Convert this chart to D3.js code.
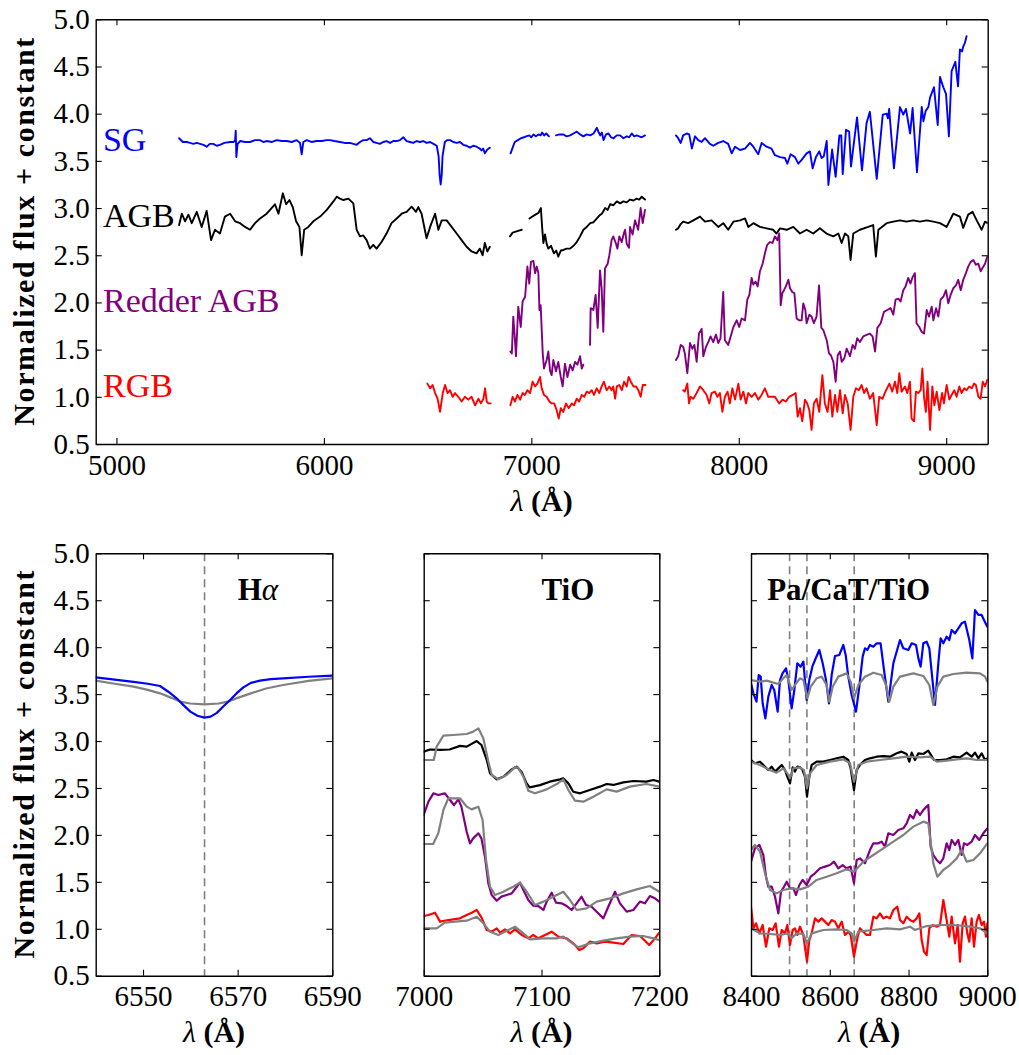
<!DOCTYPE html>
<html><head><meta charset="utf-8">
<script src="https://cdn.jsdelivr.net/npm/d3@7"></script>
<style>body{margin:0;background:#fff} svg{display:block}</style>
</head><body><svg id="c" width="1019" height="1055"></svg>
<script>
// ---------------- DATA ----------------
const topXTicks=[5000,6000,7000,8000,9000];
const yTicks=[0.5,1.0,1.5,2.0,2.5,3.0,3.5,4.0,4.5,5.0];
const haTicks=[6550,6570,6590], tioTicks=[7000,7100,7200], catTicks=[8400,8600,8800,9000];
const seriesNames=["SG","AGB","Redder AGB","RGB"];
const labelFlux=[3.6,2.8,1.9,1.0];
const markerLines=[8498,8542,8662];
const haLine=[6563];

// Top panel: SG (4 segments)
const SG_A=[[5302,3.74],[5320,3.70],[5339,3.70],[5355,3.69],[5371,3.68],[5387,3.69],[5403,3.68],[5420,3.67],[5435,3.65],[5450,3.68],[5467,3.68],[5483,3.66],[5499,3.67],[5520,3.69],[5548,3.70],[5565,3.70],[5572,3.72],[5575,3.82],[5578,3.54],[5584,3.68],[5596,3.71],[5620,3.70],[5644,3.70],[5668,3.72],[5692,3.72],[5708,3.70],[5724,3.71],[5750,3.70],[5773,3.72],[5797,3.71],[5821,3.71],[5845,3.70],[5869,3.72],[5885,3.69],[5893,3.57],[5901,3.70],[5917,3.72],[5940,3.70],[5965,3.71],[5990,3.71],[6013,3.72],[6030,3.72],[6050,3.71],[6078,3.70],[6100,3.69],[6126,3.69],[6142,3.68],[6158,3.67],[6174,3.70],[6190,3.72],[6206,3.72],[6222,3.74],[6238,3.70],[6254,3.69],[6270,3.68],[6286,3.70],[6302,3.71],[6319,3.69],[6335,3.71],[6351,3.71],[6367,3.72],[6383,3.75],[6399,3.71],[6415,3.70],[6431,3.69],[6447,3.71],[6463,3.70],[6479,3.71],[6495,3.69],[6512,3.70],[6528,3.68],[6544,3.66],[6553,3.55],[6558,3.35],[6563,3.25],[6568,3.35],[6572,3.55],[6583,3.70],[6595,3.72],[6608,3.72],[6624,3.70],[6640,3.69],[6656,3.70],[6672,3.67],[6688,3.66],[6704,3.64],[6720,3.66],[6736,3.65],[6752,3.63],[6760,3.61],[6768,3.63],[6776,3.58],[6788,3.62],[6800,3.64]];
const SG_B=[[6900,3.58],[6910,3.64],[6920,3.70],[6935,3.72],[6950,3.74],[6965,3.75],[6975,3.76],[6990,3.77],[7000,3.75],[7010,3.78],[7022,3.76],[7035,3.78],[7045,3.77],[7052,3.80],[7062,3.77],[7072,3.79],[7085,3.76]];
const SG_C=[[7119,3.77],[7135,3.78],[7155,3.78],[7170,3.76],[7187,3.77],[7203,3.79],[7219,3.81],[7235,3.78],[7251,3.76],[7267,3.78],[7284,3.77],[7300,3.79],[7316,3.85],[7325,3.80],[7332,3.77],[7340,3.80],[7348,3.72],[7360,3.78],[7372,3.79],[7384,3.75],[7396,3.74],[7412,3.77],[7428,3.77],[7444,3.74],[7460,3.76],[7472,3.75],[7484,3.79],[7496,3.76],[7508,3.77],[7520,3.76],[7532,3.75],[7548,3.77]];
const SG_D=[[7697,3.77],[7708,3.74],[7720,3.69],[7732,3.77],[7749,3.79],[7761,3.78],[7774,3.63],[7789,3.76],[7805,3.72],[7821,3.70],[7837,3.74],[7861,3.68],[7877,3.66],[7901,3.69],[7925,3.71],[7949,3.68],[7966,3.58],[7982,3.65],[8006,3.615],[8030,3.63],[8054,3.69],[8070,3.65],[8094,3.57],[8110,3.69],[8134,3.65],[8158,3.63],[8174,3.56],[8199,3.54],[8223,3.53],[8234,3.47],[8250,3.57],[8271,3.54],[8287,3.47],[8303,3.51],[8327,3.58],[8343,3.60],[8356,3.42],[8372,3.54],[8388,3.60],[8399,3.53],[8410,3.55],[8424,3.71],[8432,3.245],[8450,3.62],[8467,3.33],[8485,3.77],[8494,3.77],[8501,3.36],[8517,3.83],[8532,3.81],[8541,3.44],[8570,3.96],[8594,3.40],[8616,3.90],[8632,4.02],[8665,3.31],[8694,3.99],[8713,4.00],[8719,3.95],[8725,4.05],[8748,3.42],[8777,4.07],[8793,3.99],[8806,4.05],[8826,3.79],[8838,4.06],[8859,3.38],[8882,4.07],[8890,3.92],[8901,4.03],[8914,4.07],[8922,4.17],[8941,4.28],[8959,3.88],[8970,4.39],[8986,4.28],[8999,4.21],[9013,3.76],[9026,4.45],[9044,4.55],[9057,4.29],[9066,4.68],[9076,4.66],[9082,4.71],[9090,4.75],[9098,4.82]];

// Top panel: AGB
const AGB_A=[[5302,2.82],[5315,2.94],[5331,2.86],[5347,2.93],[5363,2.84],[5387,2.96],[5411,2.80],[5435,2.97],[5456,2.66],[5475,2.77],[5499,2.73],[5523,2.91],[5548,2.94],[5572,2.86],[5596,2.84],[5620,2.80],[5644,2.77],[5668,2.84],[5692,2.89],[5724,2.94],[5748,3.00],[5764,3.04],[5781,2.94],[5802,3.156],[5818,3.04],[5834,3.085],[5850,3.01],[5866,2.86],[5882,2.80],[5893,2.50],[5905,2.77],[5925,2.80],[5949,2.86],[5982,2.91],[6014,2.98],[6046,3.07],[6062,3.12],[6078,3.10],[6094,3.085],[6118,3.10],[6142,3.05],[6158,2.77],[6174,2.70],[6190,2.71],[6206,2.66],[6222,2.57],[6238,2.61],[6254,2.57],[6278,2.64],[6302,2.73],[6326,2.84],[6351,2.89],[6375,2.94],[6399,2.96],[6423,3.015],[6444,2.96],[6455,3.01],[6471,2.94],[6495,2.68],[6512,2.80],[6536,2.94],[6552,2.77],[6568,2.87],[6592,2.87],[6616,2.80],[6640,2.73],[6664,2.66],[6688,2.59],[6712,2.54],[6736,2.52],[6752,2.57],[6765,2.50],[6776,2.63],[6788,2.54],[6800,2.59]];
const AGB_B=[[6897,2.70],[6910,2.74],[6925,2.75],[6940,2.76],[6954,2.77]];
const AGB_C=[[6991,2.89],[7005,2.91],[7020,2.93],[7035,2.95],[7046,3.00],[7052,2.80],[7058,2.63],[7066,2.72],[7074,2.62],[7082,2.57],[7095,2.60],[7109,2.52],[7120,2.55],[7130,2.485],[7142,2.55],[7155,2.556],[7170,2.57],[7187,2.57],[7203,2.60],[7219,2.64],[7235,2.70],[7251,2.77],[7267,2.80],[7284,2.84],[7300,2.85],[7316,2.89],[7328,2.92],[7340,2.94],[7356,3.00],[7368,2.98],[7380,3.04],[7396,3.03],[7412,3.07],[7428,3.05],[7444,3.07],[7460,3.06],[7476,3.09],[7492,3.08],[7508,3.10],[7520,3.09],[7532,3.12],[7548,3.09]];
const AGB_D=[[7697,2.77],[7708,2.785],[7720,2.83],[7732,2.856],[7756,2.84],[7781,2.87],[7813,2.91],[7837,2.856],[7869,2.87],[7901,2.80],[7925,2.84],[7949,2.77],[7974,2.856],[8006,2.87],[8030,2.89],[8046,2.80],[8070,2.84],[8102,2.80],[8134,2.785],[8166,2.77],[8182,2.73],[8199,2.785],[8231,2.77],[8263,2.80],[8295,2.73],[8327,2.77],[8359,2.73],[8391,2.785],[8423,2.73],[8456,2.70],[8480,2.73],[8496,2.63],[8512,2.73],[8528,2.70],[8539,2.45],[8552,2.73],[8584,2.77],[8624,2.80],[8648,2.82],[8661,2.485],[8673,2.77],[8713,2.84],[8745,2.856],[8777,2.87],[8809,2.856],[8841,2.87],[8873,2.856],[8906,2.87],[8938,2.856],[8970,2.84],[9002,2.80],[9034,2.94],[9066,2.91],[9082,2.79],[9106,2.93],[9127,2.96],[9147,2.87],[9171,2.77],[9187,2.856],[9200,2.84]];

// Top panel: Redder AGB
const RAGB_A=[[6899,1.48],[6906,1.46],[6913,1.85],[6919,1.67],[6926,1.43],[6937,1.955],[6949,1.74],[6958,2.01],[6970,2.06],[6981,2.38],[6990,2.20],[6998,2.43],[7010,2.44],[7018,2.31],[7026,2.38],[7034,2.31],[7039,1.92],[7045,1.97],[7055,1.46],[7061,1.30],[7074,1.39],[7082,1.48],[7090,1.28],[7098,1.23],[7106,1.39],[7119,1.27],[7130,1.37],[7142,1.21],[7151,1.11],[7162,1.35],[7174,1.21],[7187,1.34],[7199,1.28],[7211,1.37],[7222,1.34],[7235,1.43],[7243,1.30],[7251,1.34]];
const RAGB_B=[[7283,1.55],[7286,1.94],[7299,1.92],[7310,2.08],[7320,1.73],[7331,2.34],[7339,2.15],[7347,1.69],[7355,2.36],[7368,2.41],[7376,2.50],[7387,2.66],[7395,2.70],[7407,2.63],[7415,2.57],[7424,2.70],[7436,2.64],[7447,2.74],[7452,2.77],[7460,2.62],[7471,2.58],[7476,2.80],[7488,2.72],[7500,2.87],[7515,2.77],[7527,3.00],[7537,2.84],[7548,2.98]];
const RAGB_C=[[7697,1.39],[7708,1.43],[7720,1.55],[7732,1.53],[7740,1.46],[7752,1.25],[7765,1.57],[7776,1.51],[7786,1.55],[7797,1.37],[7808,1.67],[7821,1.72],[7829,1.43],[7842,1.53],[7853,1.58],[7864,1.64],[7877,1.58],[7890,1.66],[7901,1.57],[7912,1.62],[7925,2.11],[7933,1.60],[7949,1.55],[7961,1.64],[7974,1.74],[7990,1.81],[8002,1.74],[8014,1.83],[8030,1.81],[8041,2.03],[8051,2.08],[8062,2.26],[8070,2.19],[8081,2.22],[8091,2.17],[8102,2.33],[8115,2.41],[8126,2.52],[8137,2.61],[8150,2.64],[8163,2.63],[8174,2.70],[8186,2.66],[8195,2.73],[8202,1.97],[8210,2.10],[8218,2.13],[8227,2.17],[8239,2.24],[8247,2.15],[8258,2.11],[8268,2.10],[8279,1.83],[8292,1.81],[8303,1.81],[8311,1.99],[8321,1.92],[8327,1.78],[8340,1.87],[8351,1.85],[8362,1.78],[8375,1.85],[8387,2.18],[8398,1.73],[8407,1.71],[8424,1.60],[8435,1.46],[8444,1.44],[8456,1.37],[8467,1.16],[8477,1.44],[8488,1.48],[8496,1.37],[8509,1.41],[8520,1.51],[8536,1.43],[8549,1.55],[8560,1.51],[8571,1.62],[8584,1.58],[8600,1.64],[8616,1.655],[8632,1.67],[8645,1.64],[8657,1.48],[8668,1.73],[8684,1.78],[8700,1.90],[8716,1.92],[8732,1.94],[8745,1.87],[8756,2.03],[8769,2.04],[8780,2.01],[8793,2.13],[8804,2.17],[8817,2.26],[8828,2.20],[8838,2.27],[8849,2.31],[8857,1.78],[8870,1.74],[8881,1.69],[8893,1.67],[8906,1.92],[8917,1.85],[8930,1.955],[8938,1.81],[8951,1.94],[8962,1.85],[8973,2.03],[8986,2.06],[8999,2.13],[9010,1.99],[9021,2.08],[9034,2.15],[9047,2.18],[9058,2.24],[9070,2.13],[9082,2.24],[9095,2.31],[9106,2.38],[9118,2.43],[9131,2.45],[9143,2.40],[9155,2.41],[9166,2.33],[9179,2.38],[9187,2.41],[9198,2.485]];

// Top panel: RGB
const RGB_A=[[6499,1.14],[6512,1.09],[6524,1.125],[6536,1.04],[6548,0.98],[6560,0.84],[6573,1.04],[6584,1.125],[6596,1.04],[6608,1.07],[6621,1.00],[6632,1.04],[6648,1.00],[6664,0.95],[6680,1.00],[6696,0.97],[6712,1.00],[6729,0.91],[6745,0.98],[6757,0.93],[6769,0.98],[6777,1.09],[6785,0.95],[6793,0.93],[6804,0.93]];
const RGB_B=[[6899,0.91],[6910,1.00],[6921,0.95],[6933,1.02],[6946,0.97],[6958,1.04],[6969,1.02],[6981,1.07],[6994,1.04],[7006,1.16],[7018,1.11],[7029,1.14],[7042,1.21],[7050,1.09],[7061,1.02],[7074,1.00],[7087,0.95],[7098,0.93],[7110,0.93],[7122,0.86],[7132,0.77],[7142,0.88],[7154,0.84],[7167,0.93],[7180,0.88],[7195,0.93],[7206,0.91],[7219,0.98],[7231,0.95],[7243,1.02],[7255,1.00],[7267,1.055],[7279,1.04],[7291,1.07],[7302,1.02],[7315,1.09],[7328,1.04],[7339,1.11],[7350,1.16],[7363,1.07],[7376,1.11],[7387,1.07],[7395,1.11],[7404,0.98],[7412,1.11],[7424,1.125],[7436,1.07],[7447,1.16],[7460,1.11],[7469,1.21],[7480,1.16],[7492,1.11],[7505,1.11],[7516,1.07],[7527,1.00],[7537,1.125],[7550,1.125]];
const RGB_C=[[7732,1.07],[7740,1.055],[7752,1.14],[7760,0.93],[7768,1.00],[7781,0.98],[7797,1.04],[7813,1.11],[7829,1.07],[7845,1.02],[7858,0.93],[7869,1.04],[7885,1.055],[7897,1.00],[7909,1.04],[7921,0.84],[7933,1.00],[7946,1.055],[7957,0.93],[7969,1.09],[7982,0.97],[7998,1.14],[8009,0.97],[8022,1.055],[8035,0.93],[8046,1.04],[8062,1.00],[8078,1.04],[8094,0.97],[8110,1.02],[8126,1.09],[8142,1.00],[8158,1.00],[8174,1.00],[8195,0.93],[8211,0.97],[8227,0.95],[8243,1.00],[8260,1.02],[8274,1.04],[8284,0.79],[8295,0.88],[8306,0.74],[8319,0.97],[8330,0.93],[8340,0.86],[8351,0.65],[8362,0.93],[8375,0.98],[8388,0.84],[8403,1.23],[8415,0.93],[8428,0.84],[8440,1.07],[8451,0.79],[8464,1.02],[8475,0.84],[8488,1.07],[8501,0.825],[8512,1.02],[8525,0.93],[8539,0.65],[8552,1.00],[8565,1.09],[8579,1.07],[8592,1.125],[8604,1.04],[8616,1.09],[8632,0.98],[8648,1.04],[8665,0.70],[8677,1.00],[8693,0.98],[8710,1.07],[8726,1.14],[8740,1.055],[8753,1.16],[8764,1.04],[8774,1.25],[8785,1.055],[8801,1.11],[8812,1.04],[8825,1.16],[8833,0.77],[8845,0.74],[8854,1.055],[8865,1.04],[8877,1.07],[8885,1.30],[8893,1.00],[8902,0.84],[8910,1.16],[8922,0.65],[8933,1.11],[8943,0.91],[8954,1.055],[8967,0.86],[8980,1.04],[8989,0.93],[9002,1.125],[9015,0.97],[9026,1.02],[9039,1.07],[9050,1.00],[9063,1.11],[9074,1.04],[9087,1.09],[9098,1.07],[9111,1.11],[9123,1.09],[9134,1.14],[9143,1.125],[9155,1.00],[9166,0.98],[9176,1.16],[9187,1.11],[9198,1.18]];

// H-alpha panel
const HA_SG=[[6540,3.678],[6544,3.655],[6548,3.63],[6551,3.61],[6553.6,3.586],[6555.5,3.52],[6557.1,3.455],[6558.6,3.38],[6560,3.313],[6561.5,3.27],[6563,3.249],[6564.3,3.26],[6565.6,3.30],[6567,3.37],[6568.4,3.437],[6569.8,3.51],[6571.2,3.572],[6572.8,3.62],[6574.7,3.643],[6577,3.66],[6579.6,3.668],[6585,3.685],[6590,3.696]];
const HA_SG_MODEL=[[6540,3.643],[6544,3.61],[6548,3.579],[6551,3.545],[6553.6,3.508],[6556,3.46],[6557.8,3.42],[6560,3.40],[6563,3.391],[6566,3.40],[6567.9,3.42],[6570,3.46],[6572.8,3.508],[6576,3.56],[6579.6,3.597],[6585,3.64],[6590,3.668]];

// TiO panel
const TIO_AGB=[[7000,2.887],[7005.4,2.91],[7013.9,2.905],[7022,2.91],[7030.8,2.948],[7036.5,2.94],[7045,3.0],[7049,2.958],[7053.5,2.80],[7056.3,2.656],[7062,2.592],[7067.6,2.62],[7074.7,2.698],[7079,2.727],[7083,2.674],[7087.4,2.549],[7090,2.507],[7098.7,2.53],[7107,2.567],[7115.7,2.592],[7118.5,2.602],[7122.8,2.549],[7127,2.46],[7132.7,2.443],[7141,2.478],[7149.6,2.514],[7155.3,2.542],[7161,2.532],[7169.5,2.56],[7178,2.574],[7189,2.567],[7195,2.585],[7200,2.567]];
const TIO_AGB_MODEL=[[7000,2.798],[7008.6,2.798],[7011,2.94],[7016.7,3.057],[7025,3.064],[7036.5,3.075],[7042,3.10],[7046.4,3.135],[7050.6,3.029],[7054.9,2.78],[7057.7,2.638],[7063.4,2.592],[7070.4,2.638],[7077.5,2.72],[7080,2.72],[7084.6,2.62],[7088.8,2.471],[7094.5,2.443],[7104.4,2.485],[7112.9,2.542],[7118.5,2.592],[7122.8,2.478],[7128.4,2.365],[7135.5,2.354],[7144,2.407],[7155.3,2.485],[7163.8,2.461],[7175,2.514],[7189,2.542],[7200,2.514]];
const TIO_RAGB=[[7000,2.212],[7004,2.354],[7008.2,2.443],[7012.4,2.425],[7018,2.443],[7022.3,2.372],[7025.7,2.318],[7029.4,2.379],[7032,2.301],[7036.5,2.034],[7039.3,1.91],[7042,1.963],[7046.4,2.017],[7049,1.963],[7052,1.768],[7054.9,1.484],[7057.7,1.36],[7062,1.299],[7066,1.342],[7070.4,1.36],[7074.7,1.377],[7079,1.448],[7081.8,1.491],[7084.6,1.413],[7088.8,1.306],[7093,1.246],[7097.3,1.242],[7101.6,1.20],[7104.4,1.289],[7108.6,1.384],[7112.3,1.278],[7117,1.271],[7121.4,1.242],[7125.6,1.20],[7129.8,1.271],[7134,1.342],[7137.8,1.253],[7142.6,1.235],[7146.8,1.182],[7152.5,1.111],[7156.7,1.235],[7162.4,1.395],[7166.6,1.271],[7172.3,1.182],[7178,1.20],[7183.6,1.289],[7187.8,1.271],[7192,1.349],[7196.3,1.324],[7200,1.289]];
const TIO_RAGB_MODEL=[[7000,1.903],[7008,1.903],[7012.4,2.017],[7016.7,2.265],[7020.9,2.39],[7030.8,2.39],[7036.5,2.301],[7040.7,2.272],[7046.4,2.301],[7050,2.159],[7052.9,1.733],[7056.3,1.448],[7060.5,1.36],[7067.6,1.395],[7076,1.448],[7081.8,1.491],[7087.4,1.395],[7094.5,1.253],[7101.6,1.289],[7110,1.342],[7118.5,1.395],[7124.2,1.306],[7129.8,1.20],[7138.3,1.218],[7146.8,1.289],[7158.1,1.324],[7169.5,1.377],[7180.8,1.42],[7192,1.455],[7200,1.395]];
const TIO_RGB=[[7000,1.136],[7004,1.147],[7009.6,1.171],[7013.9,1.076],[7020.9,1.093],[7030.8,1.111],[7036.5,1.147],[7040.7,1.171],[7045,1.20],[7049,1.122],[7053.5,0.987],[7057.7,0.969],[7062,1.005],[7064.8,0.958],[7069,0.994],[7073.3,0.951],[7077.5,0.994],[7083.2,0.934],[7088.8,0.898],[7093,0.934],[7097.3,0.898],[7103,0.934],[7108.6,0.969],[7114.3,0.916],[7121.4,0.898],[7127,0.845],[7132.1,0.774],[7135.5,0.792],[7141.2,0.863],[7146.8,0.845],[7153.9,0.863],[7161,0.852],[7169.5,0.838],[7176.5,0.933],[7183.6,0.923],[7191.5,0.827],[7196.3,0.898],[7200,0.958]];
const TIO_RGB_MODEL=[[7000,1.005],[7011,1.005],[7018,1.065],[7026.6,1.076],[7036.5,1.086],[7045,1.129],[7050.6,1.058],[7056.3,0.969],[7063.4,0.934],[7071.9,0.987],[7077.5,1.022],[7084.6,0.951],[7090.2,0.887],[7101.6,0.898],[7112.9,0.898],[7118.5,0.916],[7124.2,0.863],[7131.3,0.802],[7141.2,0.845],[7152.5,0.873],[7163.8,0.898],[7175,0.916],[7186.4,0.923],[7194.9,0.898],[7200,0.88]];

// Pa/CaT/TiO panel
const CAT_SG=[[8400,3.615],[8406,3.508],[8414,3.419],[8419.5,3.703],[8424.6,3.686],[8429.6,3.402],[8436.4,3.242],[8444,3.473],[8452.5,3.597],[8459,3.544],[8467.7,3.313],[8473.6,3.65],[8480,3.721],[8488.9,3.775],[8494.8,3.65],[8503.2,3.348],[8510,3.544],[8517.6,3.828],[8526,3.792],[8532.9,3.846],[8541.3,3.437],[8548,3.65],[8555.7,3.792],[8562.5,3.863],[8573.5,3.97],[8582,3.828],[8590.4,3.65],[8598,3.402],[8604.8,3.703],[8613.3,3.906],[8624.3,3.917],[8634.4,4.023],[8640.4,3.917],[8647,3.686],[8655.6,3.49],[8666.6,3.313],[8675,3.579],[8683.5,3.899],[8689.4,3.988],[8695.3,3.97],[8702,4.023],[8710.6,4.005],[8719,4.041],[8729,4.041],[8737.7,3.757],[8748.7,3.42],[8761.4,3.828],[8778.3,4.076],[8786.8,3.988],[8799.5,3.97],[8808,4.041],[8819,4.023],[8825,3.881],[8830.8,3.792],[8837.5,4.041],[8846,4.058],[8852.8,3.988],[8861.2,3.633],[8867.2,3.384],[8875.6,3.828],[8881.5,4.094],[8888.3,4.041],[8896.8,4.112],[8903.5,4.076],[8909.5,4.183],[8918,4.147],[8926.4,4.201],[8934.9,4.254],[8943.3,4.272],[8954.3,4.076],[8962,3.881],[8968.7,4.396],[8977.2,4.343],[8985.6,4.343],[8991.6,4.289],[9000,4.218]];
const CAT_SG_MODEL=[[8400,3.65],[8422.9,3.633],[8440,3.643],[8456.7,3.622],[8469.4,3.608],[8482,3.668],[8490.6,3.703],[8503.2,3.544],[8511.7,3.597],[8524.4,3.668],[8533,3.65],[8543,3.455],[8551.5,3.579],[8566.7,3.668],[8579.4,3.686],[8592,3.597],[8599,3.419],[8607.3,3.579],[8621.7,3.686],[8642.9,3.721],[8653,3.633],[8661.5,3.455],[8672.5,3.597],[8689.4,3.686],[8710.6,3.728],[8731.7,3.703],[8742.7,3.597],[8751.2,3.419],[8761.4,3.579],[8778.3,3.686],[8812.2,3.721],[8837.5,3.693],[8852.8,3.597],[8863,3.384],[8873.2,3.579],[8888.3,3.686],[8913.7,3.714],[8947.5,3.728],[8981.4,3.721],[8994.1,3.686],[9000,3.633]];
const CAT_AGB=[[8400,2.798],[8410,2.763],[8422.9,2.78],[8435.5,2.727],[8444,2.691],[8452.5,2.727],[8461,2.674],[8469.4,2.709],[8477.9,2.745],[8486.3,2.691],[8492.2,2.62],[8499,2.549],[8505.8,2.72],[8511.7,2.674],[8517.6,2.727],[8524.4,2.72],[8531,2.691],[8537,2.62],[8542.2,2.407],[8548.1,2.62],[8554,2.745],[8566.7,2.78],[8583.6,2.78],[8600.6,2.798],[8617.5,2.816],[8634.4,2.833],[8647,2.798],[8653,2.709],[8661.5,2.478],[8668.3,2.691],[8676.7,2.745],[8689.4,2.798],[8702,2.816],[8719,2.833],[8736,2.84],[8753,2.833],[8770,2.869],[8782.5,2.887],[8795,2.862],[8801.9,2.78],[8808,2.876],[8816.4,2.798],[8825,2.869],[8837.5,2.862],[8850,2.897],[8858.7,2.84],[8864.6,2.798],[8879.9,2.798],[8896.8,2.805],[8913.7,2.833],[8930.6,2.826],[8947.5,2.876],[8960.2,2.833],[8968.7,2.876],[8977.2,2.816],[8985.6,2.869],[8994.1,2.798],[9000,2.816]];
const CAT_AGB_MODEL=[[8400,2.78],[8422.9,2.745],[8444,2.698],[8465.2,2.663],[8482,2.709],[8492.2,2.656],[8499,2.603],[8507.5,2.709],[8524.4,2.72],[8534.5,2.691],[8542.2,2.496],[8549.8,2.656],[8566.7,2.745],[8600.6,2.78],[8634.4,2.805],[8651.4,2.763],[8661.5,2.567],[8672.5,2.745],[8693.6,2.78],[8727.5,2.798],[8761.4,2.816],[8795.2,2.833],[8829.2,2.826],[8854.5,2.833],[8871.5,2.78],[8896.8,2.791],[8922.2,2.805],[8947.5,2.816],[8972.9,2.798],[9000,2.798]];
const CAT_RAGB=[[8400,1.715],[8410,1.857],[8421.2,1.893],[8431.3,1.786],[8438.1,1.555],[8444,1.448],[8452.5,1.448],[8461,1.342],[8469.4,1.164],[8476.2,1.395],[8483.8,1.448],[8490.6,1.502],[8499,1.431],[8507.5,1.431],[8514.3,1.36],[8522.7,1.466],[8531.2,1.52],[8541.3,1.466],[8551.5,1.555],[8562.5,1.591],[8575.2,1.644],[8587.9,1.662],[8600.6,1.679],[8610.7,1.715],[8621.7,1.644],[8632.7,1.679],[8642.9,1.644],[8653,1.662],[8661.5,1.484],[8668.3,1.733],[8676.7,1.75],[8689.4,1.697],[8702,1.839],[8710.6,1.91],[8723.3,1.91],[8731.7,1.928],[8740.2,1.875],[8748.7,2.017],[8761.4,1.999],[8774.1,2.052],[8786.8,2.07],[8795.2,2.123],[8803.7,2.212],[8812.2,2.176],[8820.6,2.265],[8829,2.212],[8837.5,2.265],[8846,2.301],[8850.2,2.318],[8856.2,1.875],[8863,1.786],[8871.4,1.733],[8879.9,1.697],[8888.3,1.75],[8896.8,1.91],[8903.5,1.839],[8909.5,1.946],[8918,1.893],[8926.4,1.946],[8934.9,1.786],[8940.8,1.91],[8949.2,1.893],[8960.2,1.928],[8968.7,1.999],[8979.7,1.946],[8989.9,2.017],[9000,2.07]];
const CAT_RAGB_MODEL=[[8400,1.839],[8410,1.893],[8422.9,1.821],[8435.5,1.591],[8448.2,1.413],[8465.2,1.377],[8482,1.413],[8503.2,1.431],[8524.4,1.42],[8545.6,1.448],[8566.7,1.52],[8592,1.555],[8617.5,1.591],[8642.9,1.633],[8661.5,1.608],[8685.2,1.715],[8710.6,1.786],[8736,1.857],[8761.4,1.928],[8786.8,1.999],[8812.2,2.088],[8837.5,2.141],[8850.2,2.123],[8863,1.697],[8873.2,1.555],[8888.3,1.626],[8905.2,1.679],[8922.2,1.75],[8934.9,1.839],[8947.5,1.715],[8964.5,1.733],[8981.4,1.803],[9000,1.91]];
const CAT_RGB=[[8400,1.235],[8406,1.005],[8412.7,1.058],[8421.2,0.951],[8429.6,1.04],[8438.1,0.809],[8446.5,1.005],[8455,0.987],[8462.6,1.058],[8471,0.809],[8477.9,0.987],[8486.3,0.951],[8492.2,1.04],[8499,0.827],[8505.8,0.987],[8511.7,1.005],[8517.6,0.934],[8524.4,1.022],[8532.9,0.934],[8538,0.774],[8542.2,0.65],[8548.1,0.88],[8554,0.951],[8562.5,1.111],[8571,1.076],[8579.4,1.111],[8587.9,1.076],[8596.3,1.04],[8604.8,1.093],[8613.3,1.076],[8621.7,1.005],[8630.2,1.076],[8638.7,0.934],[8647,0.969],[8653,0.934],[8661.5,0.703],[8670,0.898],[8676.7,1.005],[8685.2,0.969],[8693.6,0.934],[8702,0.934],[8710.6,1.129],[8719,1.111],[8727.5,1.164],[8736,1.111],[8744.4,1.129],[8752.9,1.111],[8761.4,1.2],[8771.5,1.235],[8778.3,1.093],[8786.8,1.058],[8795.2,1.129],[8803.7,1.093],[8812.2,1.076],[8820.6,1.111],[8827.4,1.164],[8833.3,0.88],[8839.3,0.756],[8846,0.72],[8852.8,1.005],[8861.2,1.04],[8871.4,1.022],[8879.9,1.04],[8888.3,1.306],[8896.8,1.093],[8903.5,0.916],[8909.5,1.129],[8918,0.845],[8924.9,1.04],[8930.6,0.65],[8937.4,1.058],[8943.3,1.129],[8949.2,0.951],[8954.3,0.863],[8960.2,1.111],[8966.2,0.809],[8973,1.076],[8978.8,1.147],[8985.6,1.04],[8991.6,1.076],[8996.6,0.916],[9000,1.058]];
const CAT_RGB_MODEL=[[8400,1.005],[8422.9,0.951],[8448.2,0.944],[8473.6,0.934],[8494.8,0.951],[8503.2,0.898],[8515.9,0.951],[8532.9,0.944],[8542.2,0.845],[8554,0.951],[8583.6,0.987],[8617.5,0.994],[8642.9,0.987],[8655.6,0.951],[8661.5,0.863],[8672.5,0.969],[8710.6,0.987],[8744.4,1.005],[8778.3,0.994],[8803.7,1.022],[8816.4,0.987],[8846,1.029],[8879.9,1.04],[8913.7,1.04],[8947.5,1.029],[8981.4,1.005],[9000,0.951]];

// ---------------- DRAWING ----------------
const FONT="'Liberation Serif','Times New Roman',serif";
const COL={SG:'#0000ff',AGB:'#000000',RAGB:'#800080',RGB:'#ff0000',MODEL:'#808080'};
const svg=d3.select('#c');
svg.append('rect').attr('width',1019).attr('height',1055).attr('fill','#fff');

const xTop=d3.scaleLinear().domain([4900,9200]).range([95.7,987.7]);
const yTop=d3.scaleLinear().domain([0.5,5.0]).range([444,19.3]);
const yBot=d3.scaleLinear().domain([0.5,5.0]).range([975.7,553.3]);
const xHa=d3.scaleLinear().domain([6540,6590]).range([95.7,332.3]);
const xTio=d3.scaleLinear().domain([7000,7200]).range([423.7,659.3]);
const xCat=d3.scaleLinear().domain([8400,9000]).range([751,987.3]);

let clipN=0;
function drawLines(x,y,series,width){
  const [x0,x1]=x.range(), [yb,yt]=y.range();
  const id='clip'+(clipN++);
  svg.append('clipPath').attr('id',id).append('rect').attr('x',x0).attr('y',yt).attr('width',x1-x0).attr('height',yb-yt);
  const line=d3.line().x(d=>x(d[0])).y(d=>y(d[1]));
  const g=svg.append('g').attr('clip-path',`url(#${id})`);
  series.forEach(s=>g.append('path').attr('d',line(s.data)).attr('fill','none')
    .attr('stroke',s.color).attr('stroke-width',width).attr('stroke-linejoin','round').attr('stroke-linecap','round'));
  return g;
}
function vlines(x,y,vals){
  const [yb,yt]=y.range();
  vals.forEach(v=>svg.append('line').attr('x1',x(v)).attr('x2',x(v)).attr('y1',yt).attr('y2',yb)
    .attr('stroke','#808080').attr('stroke-width',1.6).attr('stroke-dasharray','8,5'));
}
function drawAxes(x,y,xTicks,showY){
  const [x0,x1]=x.range(), [yb,yt]=y.range();
  const style=g=>{g.attr('font-family',FONT).attr('font-size',29);
    g.select('.domain').attr('stroke-width',1.4);
    g.selectAll('.tick line').attr('stroke-width',1.1);};
  svg.append('g').attr('transform',`translate(0,${yb})`)
    .call(d3.axisBottom(x).tickValues(xTicks).tickSizeInner(-6).tickSizeOuter(0).tickFormat(d3.format('d')))
    .call(style).call(g=>g.selectAll('text').attr('dy',null).attr('y',30.5));
  svg.append('g').attr('transform',`translate(0,${yt})`)
    .call(d3.axisTop(x).tickValues(xTicks).tickSizeInner(-6).tickSizeOuter(0).tickFormat(()=>'')).call(style);
  svg.append('g').attr('transform',`translate(${x0},0)`)
    .call(d3.axisLeft(y).tickValues(yTicks).tickSizeInner(-6).tickSizeOuter(0).tickPadding(6)
      .tickFormat(showY?d3.format('.1f'):()=>'')).call(style);
  svg.append('g').attr('transform',`translate(${x1},0)`)
    .call(d3.axisRight(y).tickValues(yTicks).tickSizeInner(-6).tickSizeOuter(0).tickFormat(()=>'')).call(style);
}
function xlabel(cx,yBase){
  const t=svg.append('text').attr('x',cx).attr('y',yBase).attr('text-anchor','middle')
    .attr('font-family',FONT).attr('font-size',30);
  t.append('tspan').attr('font-style','italic').text('λ');
  t.append('tspan').attr('font-weight','bold').text(' (Å)');
}
function ylabel(cy){
  svg.append('text').attr('transform',`translate(33.5,${cy}) rotate(-90)`).attr('text-anchor','middle')
    .attr('font-family',FONT).attr('font-size',30).attr('font-weight','bold')
    .attr('textLength',388).attr('lengthAdjust','spacing').text('Normalized flux + constant');
}

// ---- top panel
drawLines(xTop,yTop,[
  ...[SG_A,SG_B,SG_C,SG_D].map(d=>({data:d,color:COL.SG})),
  ...[AGB_A,AGB_B,AGB_C,AGB_D].map(d=>({data:d,color:COL.AGB})),
  ...[RAGB_A,RAGB_B,RAGB_C].map(d=>({data:d,color:COL.RAGB})),
  ...[RGB_A,RGB_B,RGB_C].map(d=>({data:d,color:COL.RGB}))
],1.9);
drawAxes(xTop,yTop,topXTicks,true);
const labCols=[COL.SG,COL.AGB,COL.RAGB,COL.RGB];
seriesNames.forEach((n,i)=>svg.append('text').attr('x',xTop(4935)).attr('y',yTop(labelFlux[i]))
  .attr('font-family',FONT).attr('font-size',34).attr('fill',labCols[i]).text(n));
xlabel(xTop(7050),511);
ylabel(231.7);

// ---- H-alpha panel
vlines(xHa,yBot,haLine);
drawLines(xHa,yBot,[{data:HA_SG_MODEL,color:COL.MODEL},{data:HA_SG,color:COL.SG}],2.2);
drawAxes(xHa,yBot,haTicks,true);
{const t=svg.append('text').attr('x',xHa(6570)).attr('y',yBot(4.5)).attr('font-family',FONT).attr('font-size',31);
 t.append('tspan').attr('font-weight','bold').text('H');
 t.append('tspan').attr('font-style','italic').text('α');}
xlabel(xHa(6565),1042);
ylabel(764.5);

// ---- TiO panel
drawLines(xTio,yBot,[
  {data:TIO_AGB,color:COL.AGB},{data:TIO_AGB_MODEL,color:COL.MODEL},
  {data:TIO_RAGB,color:COL.RAGB},{data:TIO_RAGB_MODEL,color:COL.MODEL},
  {data:TIO_RGB,color:COL.RGB},{data:TIO_RGB_MODEL,color:COL.MODEL}],2.2);
drawAxes(xTio,yBot,tioTicks,false);
svg.append('text').attr('x',xTio(7100)).attr('y',yBot(4.5)).attr('font-family',FONT).attr('font-size',31)
  .attr('font-weight','bold').text('TiO');
xlabel(xTio(7100),1042);

// ---- Pa/CaT/TiO panel
vlines(xCat,yBot,markerLines);
drawLines(xCat,yBot,[
  {data:CAT_SG,color:COL.SG},{data:CAT_SG_MODEL,color:COL.MODEL},
  {data:CAT_AGB,color:COL.AGB},{data:CAT_AGB_MODEL,color:COL.MODEL},
  {data:CAT_RAGB,color:COL.RAGB},{data:CAT_RAGB_MODEL,color:COL.MODEL},
  {data:CAT_RGB,color:COL.RGB},{data:CAT_RGB_MODEL,color:COL.MODEL}],2.2);
drawAxes(xCat,yBot,catTicks,false);
svg.append('text').attr('x',xCat(8441)).attr('y',yBot(4.5)).attr('font-family',FONT).attr('font-size',31)
  .attr('font-weight','bold').text('Pa/CaT/TiO');
xlabel(xCat(8700),1042);
</script></body></html>
